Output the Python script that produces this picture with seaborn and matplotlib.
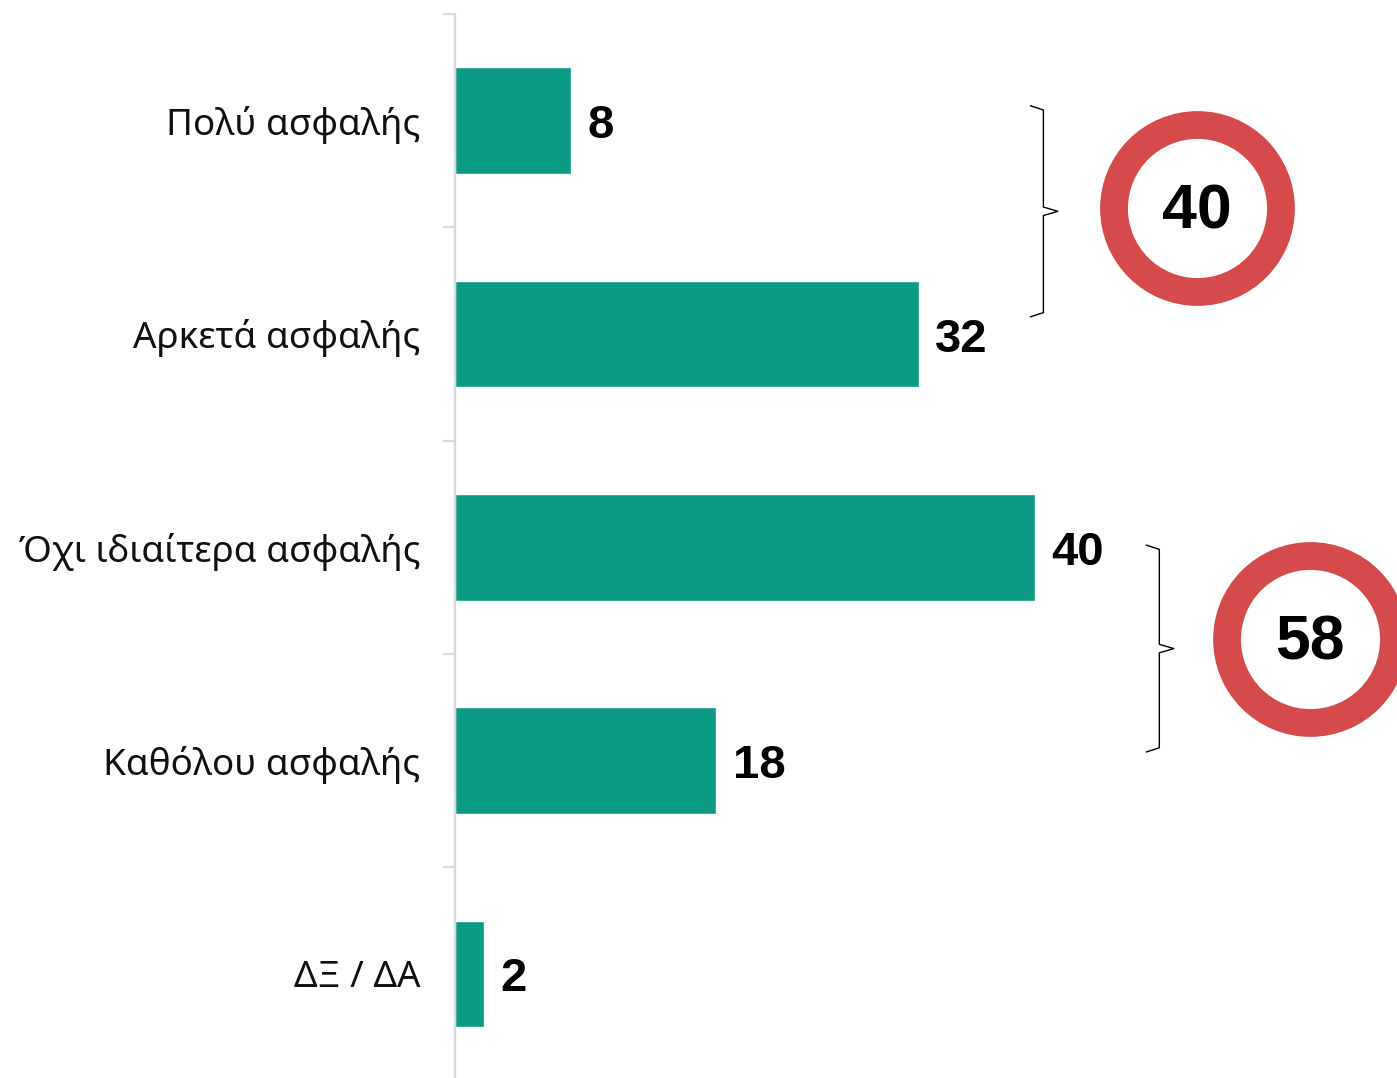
import numpy as np
import pandas as pd
import matplotlib
matplotlib.use("Agg")
import matplotlib.pyplot as plt
import seaborn as sns

# =========================================
# DATA
# =========================================

categories = [
    "Πολύ ασφαλής",
    "Αρκετά ασφαλής",
    "Όχι ιδιαίτερα ασφαλής",
    "Καθόλου ασφαλής",
    "ΔΞ / ΔΑ",
]
values = [8, 32, 40, 18, 2]

group_totals = [40, 58]
bracket_top = [-0.07, 1.99]
bracket_bot = [0.92, 2.96]

BAR_COLOR = "#0A9B82"
RING_COLOR = "#D54A4A"

df = pd.DataFrame({"cat": categories, "val": values})

# =========================================
# FIGURE
# =========================================

sns.set_style("white")
plt.rcParams["font.family"] = ["Noto Sans", "DejaVu Sans"]

W, H = 1397, 1078
fig = plt.figure(figsize=(W / 100, H / 100), dpi=100)
ax = fig.add_axes([455 / W, -2.5 / H, 942 / W, 1066.5 / H])

sns.barplot(
    data=df,
    x="val",
    y="cat",
    orient="h",
    color=BAR_COLOR,
    saturation=1,
    width=0.5,
    ax=ax,
)

ax.set_xlim(0, 65)
ax.set_ylim(4.5, -0.5)
ax.set_xlabel("")
ax.set_ylabel("")
ax.set_xticks([])

for side in ["top", "right", "bottom"]:
    ax.spines[side].set_visible(False)
ax.spines["left"].set_color("#D9D9D9")
ax.spines["left"].set_linewidth(1.6)

# category labels, separator ticks between bands
ax.tick_params(axis="y", which="major", left=False, length=0, pad=25,
               labelsize=26.5, labelcolor="#111111")
ax.set_yticks(np.arange(-0.5, 4.5, 1.0), minor=True)
ax.tick_params(axis="y", which="minor", left=True, length=9, width=1.6,
               color="#D9D9D9")

# value labels
for i, v in enumerate(values):
    ax.annotate(
        str(v),
        xy=(v, i),
        xytext=(12, -4),
        textcoords="offset points",
        ha="left",
        va="center",
        fontsize=34,
        fontweight="bold",
        family="Liberation Sans",
        color="black",
    )

# =========================================
# BRACKETS + RINGS
# =========================================

bracket_x = [40.6, 48.6]
ring_x = [51.2, 59.0]
ring_y = [0.41, 2.43]

for top, bot, bx, rx, ry, total in zip(bracket_top, bracket_bot, bracket_x,
                                       ring_x, ring_y, group_totals):
    mid = (top + bot) / 2
    ax.plot(
        [bx - 0.9, bx, bx, bx + 1.0, bx, bx, bx - 0.9],
        [top, top + 0.02, mid - 0.02, mid, mid + 0.02, bot - 0.02, bot],
        color="black",
        lw=1.0,
        clip_on=False,
    )
    ax.scatter(
        [rx], [ry],
        s=14450,
        facecolor="white",
        edgecolor=RING_COLOR,
        linewidth=20,
        clip_on=False,
        zorder=5,
    )
    ax.annotate(
        str(total),
        xy=(rx, ry),
        xytext=(0, -3),
        textcoords="offset points",
        ha="center", va="center",
        fontsize=45, fontweight="bold",
        family="Liberation Sans",
        color="black", zorder=6,
    )

plt.savefig("out.png", dpi=100)
plt.close()
